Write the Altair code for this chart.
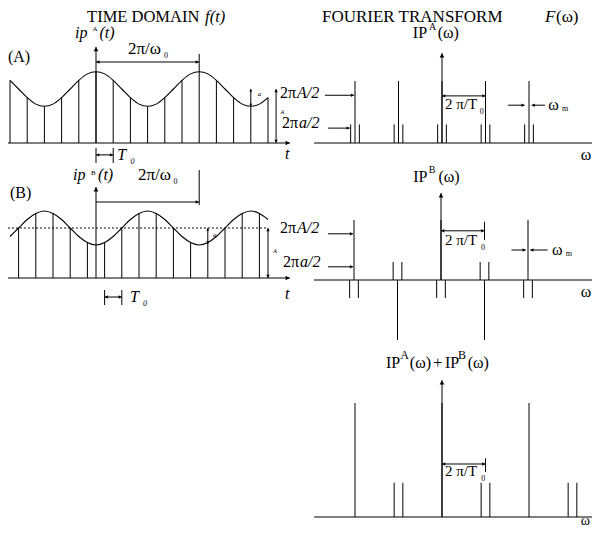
import altair as alt
import pandas as pd

# ---------------- data ----------------
# time axis in units of T0, signal level in units of the mean level A
CURVE_T = [-5.0, -4.5, -4.0, -3.5, -3.0, -2.5, -2.0, -1.5, -1.0, -0.5, 0.0,
           0.5, 1.0, 1.5, 2.0, 2.5, 3.0, 3.5, 4.0, 4.5, 5.0,
           5.5, 6.0, 6.5, 7.0, 7.5, 8.0, 8.5, 9.0, 9.5, 10.0]
CURVE_A = [1.16, 1.0, 0.84, 0.72, 0.68, 0.72, 0.84, 1.0, 1.16, 1.28, 1.32,
           1.28, 1.16, 1.0, 0.84, 0.72, 0.68, 0.72, 0.84, 1.0, 1.16,
           1.28, 1.32, 1.28, 1.16, 1.0, 0.84, 0.72, 0.68, 0.72, 0.84]
CURVE_B = [0.83, 1.0, 1.17, 1.29, 1.34, 1.29, 1.17, 1.0, 0.83, 0.71, 0.66,
           0.71, 0.83, 1.0, 1.17, 1.29, 1.34, 1.29, 1.17, 1.0, 0.83,
           0.71, 0.66, 0.71, 0.83, 1.0, 1.17, 1.29, 1.34, 1.29, 1.17]
SAMPLE_T_A = [-5, -4, -3, -2, -1, 0, 1, 2, 3, 4, 5, 6, 7, 8, 9, 10]
SAMPLE_A = [1.16, 0.84, 0.68, 0.84, 1.16, 1.32, 1.16, 0.84, 0.68, 0.84,
            1.16, 1.32, 1.16, 0.84, 0.68, 0.84]
SAMPLE_T_B = [-4.5, -3.5, -2.5, -1.5, -0.5, 0.5, 1.5, 2.5, 3.5, 4.5, 5.5,
              6.5, 7.5, 8.5, 9.5]
SAMPLE_B = [1.0, 1.29, 1.29, 1.0, 0.71, 0.71, 1.0, 1.29, 1.29, 1.0, 0.71,
            0.71, 1.0, 1.29, 1.29]

# spectra: frequency in units of 2*pi/T0, amplitude in units of A/2
HARM_AB = [-2, -1, 0, 1, 2]
MAIN_A = [1, 1, 1, 1, 1]
SIDE_A = [0.3, 0.3, 0.3, 0.3, 0.3]
MAIN_B = [1, -1, 1, -1, 1]
SIDE_B = [-0.3, 0.3, -0.3, 0.3, -0.3]
HARM_SUM = [-2, -1, 0, 1, 2, 3]
MAIN_SUM = [2, 0, 2, 0, 2, 0]
SIDE_SUM = [0, 0.6, 0, 0.6, 0, 0.6]
OMEGA_M = 0.1

# ---------------- drawing helpers ----------------
W, H = 584, 520
FONT = "Liberation Serif"


class Panel:
    def __init__(self, cx, kx, cy, ky):
        self.kx, self.ky = kx, ky
        self.sx = alt.Scale(domain=[(8 - cx) / kx, (8 + W - cx) / kx], nice=False, zero=False)
        self.sy = alt.Scale(domain=[(cy - 8 - H) / ky, (cy - 8) / ky], nice=False, zero=False)
        self.segs, self.dots, self.heads, self.txt, self.curves = [], [], [], [], []

    def X(self, f):
        return alt.X(f, type="quantitative", scale=self.sx, axis=None)

    def Y(self, f):
        return alt.Y(f, type="quantitative", scale=self.sy, axis=None)

    def line(self, x, y, x2, y2, dotted=False):
        (self.dots if dotted else self.segs).append(dict(x=x, y=y, x2=x2, y2=y2))

    def head(self, x, y, d, size):
        back = size ** 0.5 * 0.5
        dx = {"right": -1, "left": 1, "up": 0, "down": 0}[d] * back / self.kx
        dy = {"up": -1, "down": 1, "right": 0, "left": 0}[d] * back / self.ky
        self.heads.append(dict(x=x + dx, y=y + dy, shape="triangle-" + d, size=size))

    def arrow(self, x, y, x2, y2, start=False, end=True, size=18):
        self.line(x, y, x2, y2)

        def dirn(ax, ay, bx, by):
            if abs(bx - ax) * self.kx >= abs(by - ay) * self.ky:
                return "right" if bx > ax else "left"
            return "up" if by > ay else "down"

        if end:
            self.head(x2, y2, dirn(x, y, x2, y2), size)
        if start:
            self.head(x, y, dirn(x2, y2, x, y), size)

    def text(self, x, y, s, size=16, italic=False):
        self.txt.append(dict(x=x, y=y, text=s, size=size, italic=italic))

    def curve(self, t, v):
        self.curves.append(pd.DataFrame({"x": t, "y": v}))

    def spectrum(self, harm, main, side):
        for n, m, s in zip(harm, main, side):
            if m:
                self.line(n, 0, n, m)
            if s:
                self.line(n - OMEGA_M, 0, n - OMEGA_M, s)
                self.line(n + OMEGA_M, 0, n + OMEGA_M, s)

    def layers(self):
        out = []
        for df in self.curves:
            out.append(alt.Chart(df).mark_line(interpolate="monotone", color="black", strokeWidth=1.1)
                       .encode(x=self.X("x"), y=self.Y("y")))
        if self.segs:
            out.append(alt.Chart(pd.DataFrame(self.segs)).mark_rule(color="black", strokeWidth=1)
                       .encode(x=self.X("x"), y=self.Y("y"), x2=alt.X2("x2"), y2=alt.Y2("y2")))
        if self.dots:
            out.append(alt.Chart(pd.DataFrame(self.dots)).mark_rule(color="black", strokeWidth=1, strokeDash=[2, 2])
                       .encode(x=self.X("x"), y=self.Y("y"), x2=alt.X2("x2"), y2=alt.Y2("y2")))
        if self.heads:
            out.append(alt.Chart(pd.DataFrame(self.heads)).mark_point(filled=True, color="black", opacity=1)
                       .encode(x=self.X("x"), y=self.Y("y"),
                               shape=alt.Shape("shape:N", scale=None),
                               size=alt.Size("size:Q", scale=None)))
        for it in (False, True):
            rows = [r for r in self.txt if r["italic"] == it]
            if rows:
                out.append(alt.Chart(pd.DataFrame(rows)).mark_text(
                    align="left", baseline="middle", font=FONT,
                    fontStyle="italic" if it else "normal", color="black")
                    .encode(x=self.X("x"), y=self.Y("y"), text="text:N",
                            size=alt.Size("size:Q", scale=None)))
        return out


# ---------------- (A) time domain ----------------
PA = Panel(96, 17.2, 143, 54)
PA.arrow(-5.17, 0, 11.28, 0, size=22)
PA.arrow(0, 0, 0, 1.78, size=22)
for t, v in zip(SAMPLE_T_A, SAMPLE_A):
    PA.line(t, 0, t, v)
PA.curve(CURVE_T, CURVE_A)
PA.arrow(0, 1.5, 6, 1.5, start=True, size=14)
PA.line(6, 1.32, 6, 1.65)
PA.text(1.86, 1.74, "2π/ω", 17)
PA.text(3.95, 1.61, "0", 8)
PA.line(0, -0.09, 0, -0.37)
PA.line(1, -0.09, 1, -0.37)
PA.arrow(0, -0.22, 1, -0.22, start=True, size=12)
PA.text(1.24, -0.22, "T", 16, True)
PA.text(2.0, -0.35, "0", 8, True)
PA.arrow(9, 0.68, 9, 1.0, start=True, size=8)
PA.text(9.4, 0.9, "a", 7, True)
PA.arrow(10.47, 0, 10.47, 1.0, start=True, size=12)
PA.text(10.72, 0.57, "A", 6, True)
PA.text(10.7, 0.93, "2π", 16)
PA.text(11.69, 0.93, "A/2", 16, True)
PA.text(10.81, 0.37, "2π", 16)
PA.text(11.8, 0.37, "a/2", 16, True)
PA.text(10.99, -0.2, "t", 16, True)
PA.text(-5.12, 1.59, "(A)", 16)
PA.text(-1.22, 2.04, "ip", 16, True)
PA.text(-0.2, 2.12, "A", 7)
PA.text(0.2, 2.04, "(t)", 16, True)
PA.text(-0.52, 2.33, "TIME DOMAIN", 16.5)
PA.text(6.34, 2.33, "f(t)", 16.5, True)

# ---------------- (B) time domain ----------------
PB = Panel(96, 17.2, 278, 50)
PB.arrow(-5.17, 0, 11.28, 0, size=22)
PB.arrow(0, 0, 0, 1.82, size=22)
PB.line(-5.12, 1, 9.94, 1, dotted=True)
for t, v in zip(SAMPLE_T_B, SAMPLE_B):
    PB.line(t, 0, t, v)
PB.curve(CURVE_T, CURVE_B)
PB.line(6, 1.46, 6, 2.16)
PB.arrow(0, 1.52, 6, 1.52, size=14)
PB.text(2.44, 2.06, "2π/ω", 17)
PB.text(4.5, 1.92, "0", 8)
PB.text(-1.34, 2.06, "ip", 16, True)
PB.text(-0.29, 2.1, "B", 7)
PB.text(0.12, 2.06, "(t)", 16, True)
PB.text(-5.0, 1.7, "(B)", 16)
PB.line(0.5, -0.24, 0.5, -0.54)
PB.line(1.5, -0.24, 1.5, -0.54)
PB.arrow(0.5, -0.38, 1.5, -0.38, start=True, size=12)
PB.text(1.98, -0.38, "T", 16, True)
PB.text(2.73, -0.52, "0", 8, True)
PB.arrow(6.5, 0.68, 6.5, 1.0, start=True, size=8)
PB.text(6.8, 0.86, "a", 7, True)
PB.arrow(10.0, 0, 10.0, 1.0, start=True, size=12)
PB.text(10.3, 0.54, "A", 6, True)
PB.text(10.7, 1.0, "2π", 16)
PB.text(11.69, 1.0, "A/2", 16, True)
PB.text(10.87, 0.32, "2π", 16)
PB.text(11.86, 0.32, "a/2", 16, True)
PB.text(10.99, -0.32, "t", 16, True)

# ---------------- spectrum of A ----------------
SA = Panel(442, 43.5, 143, 62)
SA.arrow(-2.94, 0, 3.56, 0, size=22)
SA.arrow(0, 0, 0, 1.45, size=22)
SA.spectrum(HARM_AB, MAIN_A, SIDE_A)
SA.arrow(0, 0.76, 1, 0.76, start=True, size=12)
SA.text(0.07, 0.63, "2 π/T", 15)
SA.text(0.87, 0.5, "0", 8)
SA.arrow(1.52, 0.61, 1.9, 0.61, size=12)
SA.arrow(2.37, 0.61, 2.06, 0.61, size=12)
SA.text(2.44, 0.61, "ω", 16)
SA.text(2.76, 0.55, "m", 8)
SA.arrow(-2.69, 0.77, -2.02, 0.77, size=12)
SA.arrow(-2.62, 0.24, -2.12, 0.24, size=12)
SA.text(-2.76, 2.03, "FOURIER TRANSFORM", 17)
SA.text(2.37, 2.03, "F", 17, True)
SA.text(2.62, 2.03, "(ω)", 17)
SA.text(-0.67, 1.77, "IP", 16)
SA.text(-0.3, 1.87, "A", 10)
SA.text(-0.1, 1.77, "(ω)", 16)
SA.text(3.19, -0.19, "ω", 16)

# ---------------- spectrum of B ----------------
SB = Panel(441, 43.5, 280, 60)
SB.arrow(-2.92, 0, 3.59, 0, size=22)
SB.arrow(0, 0, 0, 1.45, size=22)
SB.spectrum(HARM_AB, MAIN_B, SIDE_B)
SB.arrow(0, 0.82, 1, 0.82, start=True, size=12)
SB.line(1, 0.67, 1, 0.97)
SB.text(0.09, 0.67, "2 π/T", 15)
SB.text(0.92, 0.53, "0", 8)
SB.arrow(1.62, 0.5, 1.95, 0.5, size=12)
SB.arrow(2.45, 0.5, 2.05, 0.5, size=12)
SB.text(2.55, 0.5, "ω", 16)
SB.text(2.87, 0.43, "m", 8)
SB.arrow(-2.6, 0.77, -2.02, 0.77, size=12)
SB.arrow(-2.6, 0.22, -2.02, 0.22, size=12)
SB.text(-0.64, 1.72, "IP", 16)
SB.text(-0.28, 1.83, "B", 10)
SB.text(-0.06, 1.72, "(ω)", 16)
SB.text(3.21, -0.2, "ω", 16)

# ---------------- sum spectrum ----------------
SS = Panel(442, 43.5, 517, 57)
SS.arrow(-2.94, 0, 3.56, 0, size=22)
SS.arrow(0, 0, 0, 2.4, size=22)
SS.spectrum(HARM_SUM, MAIN_SUM, SIDE_SUM)
SS.arrow(0, 0.93, 1, 0.93, start=True, size=12)
SS.line(1, 0.79, 1, 1.03)
SS.text(0.07, 0.81, "2 π/T", 15)
SS.text(0.9, 0.67, "0", 8)
SS.text(-1.29, 2.7, "IP", 16)
SS.text(-0.96, 2.85, "A", 12)
SS.text(-0.74, 2.7, "(ω)", 16)
SS.text(-0.2, 2.7, "+", 16)
SS.text(0.07, 2.7, "IP", 16)
SS.text(0.37, 2.85, "B", 12)
SS.text(0.59, 2.7, "(ω)", 16)
SS.text(3.19, -0.07, "ω", 14)

all_layers = []
for P in (PA, PB, SA, SB, SS):
    all_layers += P.layers()

chart = (
    alt.layer(*all_layers)
    .resolve_scale(x="independent", y="independent")
    .properties(width=W, height=H, padding=0,
                autosize=alt.AutoSizeParams(type="none"), background="white")
    .configure_view(stroke=None)
)
chart.save("out.html", embed_options={"renderer": "svg", "actions": False})
